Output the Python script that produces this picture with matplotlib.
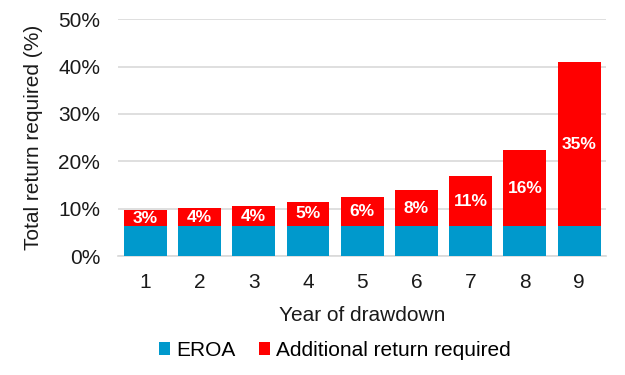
import matplotlib
matplotlib.use('Agg')
from matplotlib import pyplot as plt
from matplotlib.ticker import PercentFormatter
import numpy as np

plt.rcParams['font.family'] = ['Liberation Sans', 'DejaVu Sans']

years = ['1', '2', '3', '4', '5', '6', '7', '8', '9']
eroa = [6.3, 6.3, 6.3, 6.3, 6.3, 6.3, 6.3, 6.3, 6.3]
additional = [3.4, 3.8, 4.2, 5.2, 6.2, 7.6, 10.6, 16.1, 34.7]
add_labels = ['3%', '4%', '4%', '5%', '6%', '8%', '11%', '16%', '35%']

blue = '#0099CC'
red = '#FF0000'

fig = plt.figure(figsize=(6.25, 3.75), dpi=100)
ax = fig.add_axes([0.189, 0.317, 0.781, 0.632])
x = np.arange(1, len(years) + 1)
ax.bar(x, eroa, width=0.79, color=blue, label='EROA', zorder=3)
ax.bar(x, additional, width=0.79, bottom=eroa, color=red,
       label='Additional return required', zorder=3)

# labels in the middle of the red part
for xi, b, h, lab in zip(x, eroa, additional, add_labels):
    ax.text(xi, b + h/2, lab, ha='center', va='center', color='white',
            fontsize=12.5, fontweight='bold', zorder=4)

ax.set_xlim(0.5, 9.5)
ax.set_ylim(0, 50)
ax.set_yticks(np.arange(0, 51, 10))
ax.yaxis.set_major_formatter(PercentFormatter(decimals=0))
ax.set_xticks(x, years)
ax.tick_params(length=0, labelsize=15, colors='#1a1a1a')
ax.tick_params(axis='x', pad=12)
ax.tick_params(axis='y', pad=13)
ax.grid(axis='y', color='#D9D9D9', lw=1.2, zorder=0)
for s in ['top', 'right', 'left']:
    ax.spines[s].set_visible(False)
ax.spines['bottom'].set_color('#D9D9D9')
ax.spines['bottom'].set_linewidth(1.2)

ax.set_xlabel('Year of drawdown', fontsize=15, color='#1a1a1a', labelpad=10)
ax.set_ylabel('Total return required (%)', fontsize=15, color='#1a1a1a', labelpad=11)

fig.legend(loc='center', bbox_to_anchor=(0.536, 0.066), ncol=2, frameon=False,
           fontsize=15, handlelength=0.55, handleheight=0.55, handletextpad=0.3,
           columnspacing=1.1)

fig.savefig('out.png', dpi=100)
